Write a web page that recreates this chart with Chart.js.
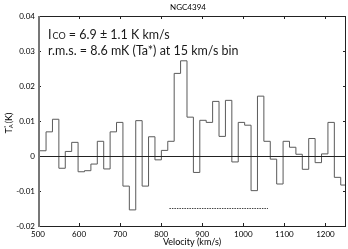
<!DOCTYPE html>
<html>
<head>
<meta charset="utf-8">
<script src="https://cdn.jsdelivr.net/npm/chart.js@4.4.1/dist/chart.umd.min.js"></script>
<style>
  html, body { margin: 0; padding: 0; background: #fff; }
  #wrap { width: 348px; height: 249px; }
</style>
</head>
<body>
<div id="wrap"><canvas id="spec"></canvas></div>
<script>
// Channel centres (km/s) and antenna temperature (K)
const velocity = [
  511.8, 527.4, 543.0, 558.6, 574.2, 589.8, 605.4, 621.0, 636.6, 652.2,
  667.8, 683.4, 699.0, 714.6, 730.2, 745.8, 761.4, 777.0, 792.6, 808.2,
  823.8, 839.4, 855.0, 870.6, 886.2, 901.8, 917.4, 933.0, 948.6, 964.2,
  979.8, 995.4, 1011.0, 1026.6, 1042.2, 1057.8, 1073.4, 1089.0, 1104.6, 1120.2,
  1135.8, 1151.4, 1167.0, 1182.6, 1198.2, 1213.8, 1229.4, 1245.0
];
const ta = [
  0.0015, 0.0069, 0.0105, -0.0035, 0.0013, 0.0039, -0.0045, -0.0042, -0.0023, 0.0042,
  -0.0037, 0.0069, 0.0096, -0.0086, -0.0154, 0.0101, -0.0086, 0.0055, -0.0011, 0.0016,
  0.0042, 0.0236, 0.0272, 0.0111, -0.0047, 0.0102, 0.0096, 0.0156, 0.0056, 0.0159,
  -0.0017, 0.0096, 0.0088, -0.0099, 0.0171, 0.0042, -0.0009, -0.0080, 0.0042, 0.0025,
  0.0005, -0.0038, 0.0050, -0.0019, 0.0006, 0.0096, -0.0061, -0.0083
];
const binWidth = 15.6;

// line-width range marker
const rangeV = [820, 1060];
const rangeY = -0.015;

const xTicks = [500, 600, 700, 800, 900, 1000, 1100, 1200];
const yTicks = [-0.02, -0.01, 0, 0.01, 0.02, 0.03, 0.04];

const FONT = 'Lato, "Open Sans", sans-serif';

// histogram edges: each value holds from its left edge to the next
const histPts = velocity.map((v, i) => ({ x: v - binWidth / 2, y: ta[i] }));
histPts.push({ x: velocity[velocity.length - 1] + binWidth / 2, y: ta[ta.length - 1] });

const framePlugin = {
  id: 'frame',
  afterDatasetsDraw(chart) {
    const { ctx, chartArea: a, scales } = chart;
    const xs = scales.x, ys = scales.y;
    ctx.save();
    ctx.strokeStyle = '#222';
    ctx.lineWidth = 1;
    ctx.beginPath();
    // zero line
    const y0 = Math.round(ys.getPixelForValue(0)) + 0.5;
    ctx.moveTo(a.left, y0); ctx.lineTo(a.right, y0);
    // thin frame
    ctx.moveTo(a.left, a.top + 0.5); ctx.lineTo(a.right, a.top + 0.5);
    ctx.moveTo(a.right - 0.5, a.top); ctx.lineTo(a.right - 0.5, a.bottom);
    ctx.moveTo(a.left, a.bottom + 0.5); ctx.lineTo(a.right, a.bottom + 0.5);
    // inward ticks
    xTicks.forEach(t => {
      const px = Math.round(xs.getPixelForValue(t)) + 0.5;
      ctx.moveTo(px, a.bottom); ctx.lineTo(px, a.bottom - 3);
      ctx.moveTo(px, a.top); ctx.lineTo(px, a.top + 3);
    });
    yTicks.forEach(t => {
      const py = Math.round(ys.getPixelForValue(t)) + 0.5;
      ctx.moveTo(a.left, py); ctx.lineTo(a.left + 3, py);
      ctx.moveTo(a.right, py); ctx.lineTo(a.right - 3, py);
    });
    ctx.stroke();
    // heavy grey left axis
    ctx.strokeStyle = '#777';
    ctx.lineWidth = 2;
    ctx.beginPath();
    ctx.moveTo(a.left + 1, a.top); ctx.lineTo(a.left + 1, a.bottom + 1);
    ctx.stroke();

    ctx.fillStyle = '#000';
    // title
    ctx.font = '8px ' + FONT;
    ctx.textAlign = 'center';
    ctx.textBaseline = 'middle';
    ctx.fillText('NGC4394', 188, 7);

    // x title
    ctx.font = '9px ' + FONT;
    ctx.fillText('Velocity (km/s)', (a.left + a.right) / 2, 242);

    // y title, T_A^* (K)
    ctx.save();
    ctx.translate(9, (a.top + a.bottom) / 2);
    ctx.rotate(-Math.PI / 2);
    ctx.textAlign = 'left';
    ctx.textBaseline = 'middle';
    const parts = [['T', '9px', 0], ['A', '6px', 2], ['*', '6px', -3], [' (K)', '9px', 0]];
    let w = 0;
    parts.forEach(p => { ctx.font = p[1] + ' ' + FONT; w += ctx.measureText(p[0]).width; });
    let cx = -w / 2;
    parts.forEach((p, i) => {
      ctx.font = p[1] + ' ' + FONT;
      ctx.fillText(p[0], cx, p[2]);
      if (i !== 1) cx += ctx.measureText(p[0]).width;
    });
    ctx.restore();

    // annotations
    ctx.fillStyle = '#1a1a1a';
    ctx.textAlign = 'left';
    ctx.textBaseline = 'alphabetic';
    let tx = 48;
    ctx.font = '12.5px ' + FONT;
    ctx.fillText('I', tx, 38.5);
    tx += ctx.measureText('I').width + 1;
    ctx.font = '9px ' + FONT;
    ctx.fillText('CO', tx, 38.5);
    tx += ctx.measureText('CO').width;
    ctx.font = '12.5px ' + FONT;
    ctx.fillText(' = 6.9 \u00b1 1.1 K km/s', tx, 38.5);
    ctx.fillText('r.m.s. = 8.6 mK (Ta*) at 15 km/s bin', 48, 55);
    ctx.restore();
  }
};

new Chart(document.getElementById('spec'), {
  type: 'line',
  data: {
    datasets: [
      {
        data: histPts,
        stepped: 'before',
        borderColor: '#5a5a5a',
        borderWidth: 1,
        pointRadius: 0
      },
      {
        data: rangeV.map(v => ({ x: v, y: rangeY })),
        borderColor: '#444',
        borderWidth: 1,
        borderDash: [1.5, 1],
        pointRadius: 0
      }
    ]
  },
  options: {
    responsive: true,
    maintainAspectRatio: false,
    animation: false,
    layout: { padding: { top: 16, right: 2, left: 0, bottom: 0 } },
    plugins: { legend: { display: false }, tooltip: { enabled: false } },
    scales: {
      x: {
        type: 'linear',
        min: 500,
        max: 1250,
        afterFit: s => { s.height = 23; },
        afterBuildTicks: s => { s.ticks = xTicks.map(v => ({ value: v })); },
        grid: { display: false, drawTicks: false },
        border: { display: false },
        ticks: {
          padding: 4,
          color: '#000',
          font: { family: FONT, size: 8 },
          maxRotation: 0,
          callback: v => String(v)
        }
      },
      y: {
        min: -0.02,
        max: 0.04,
        afterFit: s => { s.width = 38; },
        afterBuildTicks: s => { s.ticks = yTicks.map(v => ({ value: v })); },
        grid: { display: false, drawTicks: false },
        border: { display: false },
        ticks: {
          padding: 3,
          color: '#000',
          font: { family: FONT, size: 8 },
          callback: v => (v === 0 ? '0' : String(Math.round(v * 100) / 100))
        }
      }
    }
  },
  plugins: [framePlugin]
});
</script>
</body>
</html>
